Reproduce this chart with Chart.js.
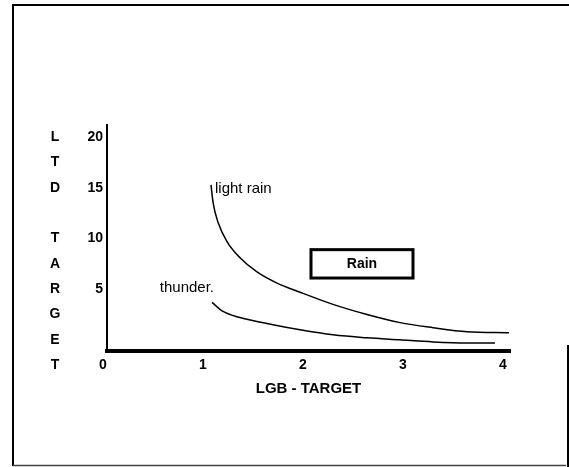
<!DOCTYPE html>
<html lang="en">

<head>
    <meta charset="UTF-8">
    <meta name="viewport" content="width=device-width, initial-scale=1.0">
    <title>LTD target vs LGB target</title>
    <style>
        html, body {
            margin: 0;
            padding: 0;
            background: #fff;
        }
        #wrap {
            width: 569px;
            height: 467px;
        }
    </style>
</head>

<body>
    <div id="wrap"><canvas id="lineChart" width="569" height="467"></canvas></div>
    <script type="text/javascript" src="https://cdn.jsdelivr.net/npm/chart.js@4.4.1/dist/chart.umd.min.js"></script>
    <script type="text/javascript">
        const xTicks = [0, 1, 2, 3, 4];
        const yTicks = [5, 10, 15, 20];
        const xTitle = "LGB - TARGET";
        const yTitle = "LTD TARGET";

        const lightRainX = [1.08, 1.10, 1.15, 1.24, 1.37, 1.54, 1.74, 1.97, 2.30, 2.64, 2.97, 3.30, 3.64, 4.06];
        const lightRainY = [15.3, 13.6, 11.6, 9.7, 8.1, 6.7, 5.6, 4.7, 3.5, 2.5, 1.7, 1.2, 0.8, 0.7];

        const thunderX = [1.09, 1.20, 1.37, 1.70, 1.97, 2.30, 2.64, 2.97, 3.30, 3.64, 3.92];
        const thunderY = [3.7, 2.8, 2.2, 1.5, 1.0, 0.5, 0.2, 0.0, -0.2, -0.3, -0.3];

        // the boxed "Rain" note, in axis units
        const rainBox = { text: "Rain", x0: 2.08, x1: 3.10, y0: 8.9, y1: 6.1 };

        const font = "'Liberation Sans', Arial, sans-serif";
        const toPoints = (xs, ys) => xs.map((x, i) => ({ x: x, y: ys[i] }));

        // frame, stacked y title, curve labels and the Rain box
        const extras = {
            id: "extras",
            afterDraw(chart) {
                const ctx = chart.ctx;
                const xs = chart.scales.x;
                const ys = chart.scales.y;
                ctx.save();
                ctx.strokeStyle = "#000";
                ctx.fillStyle = "#000";

                // page frame
                ctx.lineWidth = 2;
                ctx.beginPath();
                ctx.moveTo(13, 466);
                ctx.lineTo(13, 5);
                ctx.lineTo(569, 5);
                ctx.stroke();
                ctx.beginPath();
                ctx.moveTo(568, 345);
                ctx.lineTo(568, 467);
                ctx.stroke();
                ctx.lineWidth = 1.5;
                ctx.strokeStyle = "#444";
                ctx.beginPath();
                ctx.moveTo(13, 465.5);
                ctx.lineTo(566, 465.5);
                ctx.stroke();
                ctx.strokeStyle = "#000";

                // y title, one letter per row
                ctx.font = "bold 14px " + font;
                ctx.textAlign = "center";
                ctx.textBaseline = "middle";
                for (let i = 0; i < yTitle.length; i++) {
                    ctx.fillText(yTitle[i], 55, ys.getPixelForValue(20 - 2.5 * i));
                }

                // curve labels at the start of each line
                const lr = chart.getDatasetMeta(0).data[0];
                const th = chart.getDatasetMeta(1).data[0];
                ctx.font = "15px " + font;
                ctx.textAlign = "left";
                ctx.fillText(chart.data.datasets[0].label, lr.x + 4, lr.y + 4);
                ctx.textAlign = "right";
                ctx.fillText(chart.data.datasets[1].label, th.x + 2, th.y - 14);

                // Rain box
                const bx0 = xs.getPixelForValue(rainBox.x0);
                const bx1 = xs.getPixelForValue(rainBox.x1);
                const by0 = ys.getPixelForValue(rainBox.y0);
                const by1 = ys.getPixelForValue(rainBox.y1);
                ctx.lineWidth = 3;
                ctx.strokeRect(bx0, by0, bx1 - bx0, by1 - by0);
                ctx.font = "bold 14px " + font;
                ctx.textAlign = "center";
                ctx.fillText(rainBox.text, (bx0 + bx1) / 2, (by0 + by1) / 2);
                ctx.restore();
            }
        };

        const ctx = document.getElementById("lineChart").getContext("2d");
        const myLineChart = new Chart(ctx, {
            type: "line",
            data: {
                datasets: [
                    {
                        label: "light rain",
                        data: toPoints(lightRainX, lightRainY),
                        borderColor: "#000",
                        borderWidth: 1.5,
                        pointRadius: 0,
                        cubicInterpolationMode: "monotone",
                        fill: false
                    },
                    {
                        label: "thunder.",
                        data: toPoints(thunderX, thunderY),
                        borderColor: "#000",
                        borderWidth: 1.5,
                        pointRadius: 0,
                        cubicInterpolationMode: "monotone",
                        fill: false
                    }
                ]
            },
            options: {
                responsive: false,
                animation: false,
                layout: { padding: { top: 125, right: 59, bottom: 56, left: 0 } },
                plugins: {
                    legend: { display: false },
                    tooltip: { enabled: false }
                },
                scales: {
                    x: {
                        type: "linear",
                        min: 0.04,
                        max: 4.07,
                        afterBuildTicks: s => { s.ticks = xTicks.map(v => ({ value: v })); },
                        afterFit: s => { s.height = 60; },
                        grid: { display: false, drawTicks: false },
                        border: { display: true, color: "#000", width: 4 },
                        ticks: {
                            color: "#000",
                            padding: 6,
                            callback: v => String(v),
                            font: { family: font, size: 14, weight: "bold" }
                        },
                        title: {
                            display: true,
                            text: xTitle,
                            color: "#000",
                            padding: { top: 4, bottom: 13 },
                            font: { family: font, size: 15, weight: "bold" }
                        }
                    },
                    y: {
                        type: "linear",
                        min: -1.1,
                        max: 21.2,
                        afterBuildTicks: s => { s.ticks = yTicks.map(v => ({ value: v })); },
                        afterFit: s => { s.width = 107; },
                        grid: { display: false, drawTicks: false },
                        border: { display: true, color: "#000", width: 2 },
                        ticks: {
                            color: "#000",
                            padding: 4,
                            callback: v => String(v),
                            font: { family: font, size: 14, weight: "bold" }
                        }
                    }
                }
            },
            plugins: [extras]
        });
    </script>
</body>

</html>
